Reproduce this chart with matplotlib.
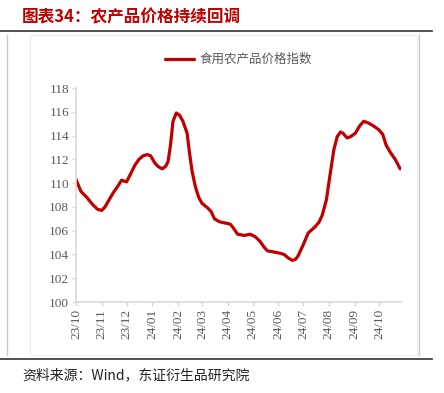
import matplotlib
matplotlib.use("Agg")
import matplotlib.pyplot as plt
import matplotlib.dates as mdates
from matplotlib.lines import Line2D
from matplotlib.patches import Rectangle
import pandas as pd

plt.rcParams['font.family'] = ['Noto Sans CJK SC', 'DejaVu Sans']

# 食用农产品价格指数
dates = [
    "2023-10-01", "2023-10-04", "2023-10-07", "2023-10-14", "2023-10-21",
    "2023-10-27", "2023-11-01", "2023-11-05", "2023-11-10", "2023-11-15",
    "2023-11-21", "2023-11-25", "2023-12-01", "2023-12-06", "2023-12-11",
    "2023-12-16", "2023-12-21", "2023-12-26", "2023-12-30", "2024-01-04",
    "2024-01-08", "2024-01-13", "2024-01-17", "2024-01-20", "2024-01-23",
    "2024-01-26", "2024-01-30", "2024-02-03", "2024-02-07", "2024-02-12",
    "2024-02-15", "2024-02-18", "2024-02-22", "2024-02-26", "2024-03-01",
    "2024-03-08", "2024-03-12", "2024-03-16", "2024-03-22", "2024-04-04",
    "2024-04-07", "2024-04-13", "2024-04-21", "2024-04-28", "2024-05-04",
    "2024-05-10", "2024-05-15", "2024-05-19", "2024-05-27", "2024-06-03",
    "2024-06-08", "2024-06-13", "2024-06-18", "2024-06-22", "2024-06-25",
    "2024-07-01", "2024-07-07", "2024-07-15", "2024-07-20", "2024-07-24",
    "2024-07-29", "2024-08-02", "2024-08-07", "2024-08-11", "2024-08-15",
    "2024-08-18", "2024-08-23", "2024-08-27", "2024-09-02", "2024-09-07",
    "2024-09-12", "2024-09-18", "2024-09-24", "2024-09-30", "2024-10-05",
    "2024-10-09", "2024-10-14", "2024-10-20", "2024-10-26",
]
values = [
    110.3, 109.8, 109.3, 108.8, 108.2,
    107.8, 107.7, 108.0, 108.6, 109.2,
    109.8, 110.25, 110.1, 110.8, 111.5,
    112.0, 112.3, 112.4, 112.3, 111.7,
    111.4, 111.2, 111.4, 111.8, 113.2,
    115.2, 115.9, 115.7, 115.2, 114.2,
    112.5, 111.0, 109.7, 108.8, 108.3,
    107.9, 107.6, 107.0, 106.75, 106.55,
    106.3, 105.7, 105.6, 105.7, 105.5,
    105.1, 104.6, 104.3, 104.2, 104.1,
    104.0, 103.7, 103.5, 103.6, 103.9,
    104.8, 105.8, 106.3, 106.7, 107.3,
    108.6, 110.5, 112.8, 113.9, 114.3,
    114.2, 113.8, 113.9, 114.2, 114.8,
    115.2, 115.05, 114.8, 114.5, 114.1,
    113.2, 112.6, 112.0, 111.2,
]
series_name = "食用农产品价格指数"
title = "图表34：农产品价格持续回调"
source = "资料来源：Wind，东证衍生品研究院"

x = pd.to_datetime(dates)

fig = plt.figure(figsize=(4.44, 3.93), dpi=100)
ax = fig.add_axes([76 / 444, 1 - 302 / 393, 325 / 444, 214 / 393])

ax.plot(x, values, color="#c00000", lw=2.3, solid_joinstyle="round",
        solid_capstyle="round", label=series_name)

ax.set_ylim(100, 118)
ax.set_yticks(range(100, 119, 2))
ax.set_xlim(pd.Timestamp("2023-10-01"), pd.Timestamp("2024-10-27"))
ax.xaxis.set_major_locator(mdates.MonthLocator())
ax.xaxis.set_major_formatter(mdates.DateFormatter("%y/%m"))

for lab in ax.get_xticklabels() + ax.get_yticklabels():
    lab.set_family("Liberation Serif")
    lab.set_fontsize(9.5)
    lab.set_color("#595959")
for lab in ax.get_xticklabels():
    lab.set_rotation(90)

ax.tick_params(axis="both", color="#d9d9d9", length=3, width=1, pad=2)
for s in ("top", "right"):
    ax.spines[s].set_visible(False)
for s in ("left", "bottom"):
    ax.spines[s].set_color("#d9d9d9")
    ax.spines[s].set_linewidth(1.2)

leg = ax.legend(loc="lower center", bbox_to_anchor=(0.5, 1.05), frameon=False,
                handlelength=2.3, handletextpad=0.5, prop={"size": 9})
for t in leg.get_texts():
    t.set_color("#595959")

# frame lines and header/footer
fig.add_artist(Line2D([0, 432 / 444], [1 - 31 / 393] * 2, color="#333333", lw=1.2))
fig.add_artist(Line2D([0, 432 / 444], [1 - 359 / 393] * 2, color="#333333", lw=1.2))
fig.add_artist(Line2D([7 / 444] * 2, [1 - 355 / 393, 1 - 35 / 393], color="#c8c8c8", lw=1))
fig.add_artist(Line2D([419 / 444] * 2, [1 - 355 / 393, 1 - 35 / 393], color="#c8c8c8", lw=1))
fig.add_artist(Rectangle((30 / 444, 1 - 355 / 393), 387 / 444, 320 / 393,
                         transform=fig.transFigure, fill=False,
                         edgecolor="#ececec", lw=0.8))

fig.text(22 / 444, 1 - 17 / 393, title, color="#c00000", fontsize=12,
         fontweight="bold", va="center", ha="left")
fig.text(22 / 444, 1 - 375 / 393, source, color="#222222", fontsize=10,
         va="center", ha="left")

fig.savefig("out.png", dpi=100)
